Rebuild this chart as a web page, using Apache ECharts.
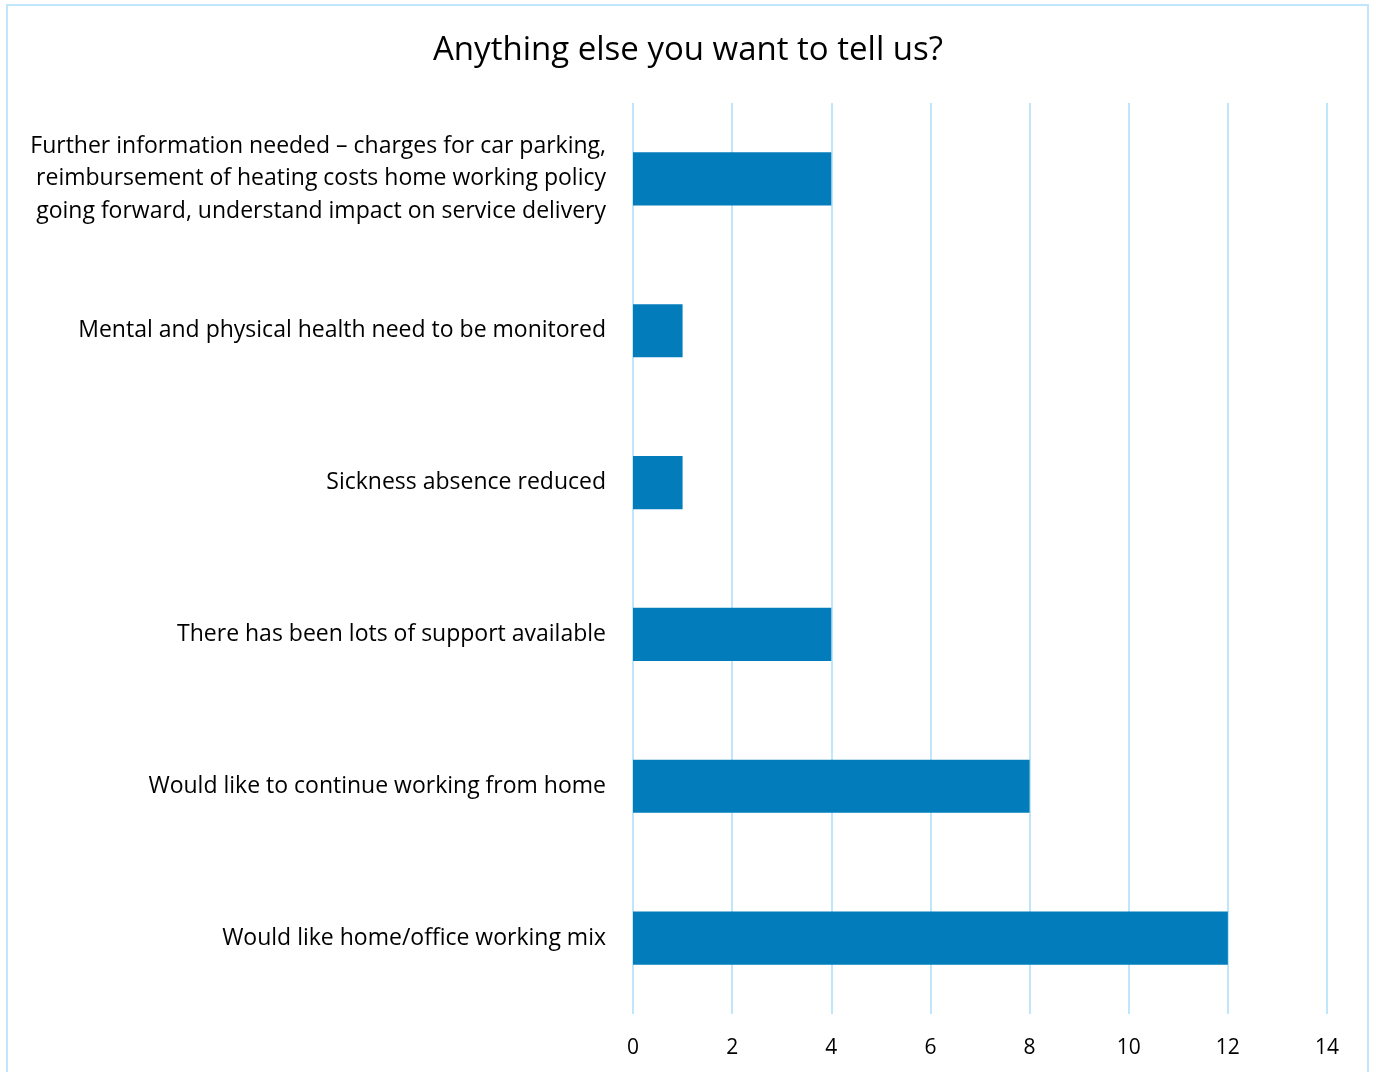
<!DOCTYPE html>
<html><head><meta charset="utf-8">
<script src="https://cdn.jsdelivr.net/npm/echarts@6/dist/echarts.min.js"></script>
<style>html,body{margin:0;padding:0;background:#fff}#c{width:1376px;height:1072px}</style>
</head><body><div id="c"></div>
<script>
const titleText = "Anything else you want to tell us?";
const categories = [
  "Further information needed \u2013 charges for car parking,\nreimbursement of heating costs home working policy\ngoing forward, understand impact on service delivery",
  "Mental and physical health need to be monitored",
  "Sickness absence reduced",
  "There has been lots of support available",
  "Would like to continue working from home",
  "Would like home/office working mix"
];
const values = [4, 1, 1, 4, 8, 12];
const xMin = 0, xMax = 14, xStep = 2;

const chart = echarts.init(document.getElementById('c'), null, {renderer: 'canvas'});
const font = "Open Sans";
chart.setOption({
  animation: false,
  backgroundColor: '#ffffff',
  title: {
    text: titleText, left: 'center', top: 29,
    textStyle: {fontFamily: font, fontSize: 33, fontWeight: 'normal', color: '#000'}
  },
  graphic: [{
    type: 'rect', shape: {x: 7, y: 5, width: 1361, height: 1100},
    style: {fill: 'none', stroke: '#bfe6fb', lineWidth: 2}, silent: true
  }],
  grid: {left: 633, right: 49, top: 103, bottom: 58, containLabel: false},
  xAxis: {
    type: 'value', min: xMin, max: xMax, interval: xStep,
    axisLine: {show: false}, axisTick: {show: false},
    splitLine: {show: true, lineStyle: {color: '#bfe6fb', width: 2}},
    axisLabel: {fontFamily: font, fontSize: 21, color: '#000', margin: 24}
  },
  yAxis: {
    type: 'category', data: categories, inverse: true,
    axisLine: {show: false}, axisTick: {show: false}, splitLine: {show: false},
    axisLabel: {fontFamily: font, fontSize: 23, color: '#000', margin: 27, lineHeight: 32.5, align: 'right', padding: [4, 0, 0, 0]}
  },
  series: [{
    type: 'bar', data: values, barCategoryGap: '65%',
    itemStyle: {color: '#027cba'}
  }]
});
</script></body></html>
